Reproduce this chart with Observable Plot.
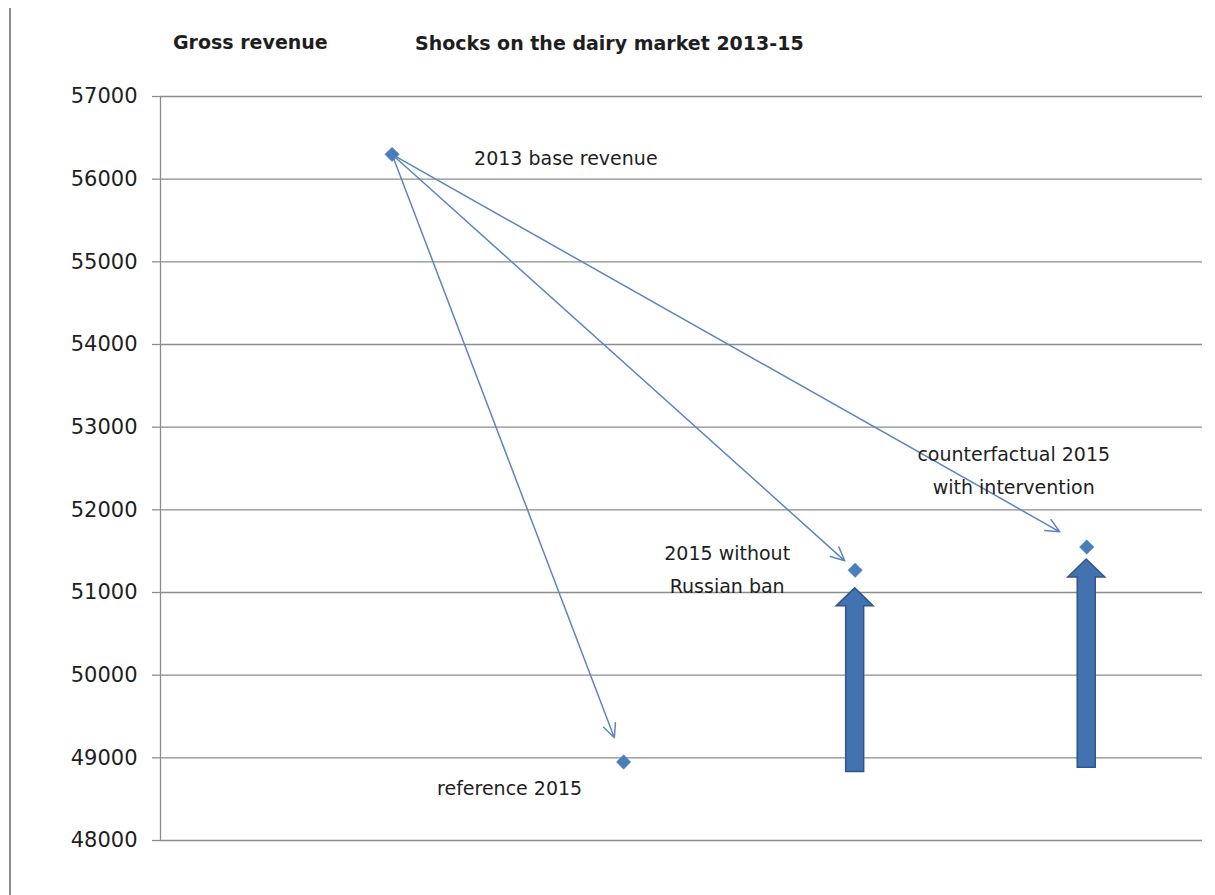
<!DOCTYPE html>
<html>
<head>
<meta charset="utf-8">
<script src="https://cdn.jsdelivr.net/npm/d3@7"></script>
<script src="https://cdn.jsdelivr.net/npm/@observablehq/plot@0.6"></script>
<style>
  html, body { margin: 0; padding: 0; background: #fff; }
  #wrap { position: relative; width: 1215px; height: 895px; overflow: hidden; }
  #border { position: absolute; left: 9px; top: 8px; bottom: 0; border-left: 2px solid #8a8a8a; }
  #header { position: relative; height: 70px; }
  .ttl { position: absolute; font-family: "DejaVu Sans", sans-serif; font-weight: bold; font-size: 19px; line-height: 19px; color: #1e1e1e; white-space: nowrap; }
  #chart svg { display: block; }
</style>
</head>
<body>
<div id="wrap">
  <div id="border"></div>
  <div id="header">
    <div class="ttl" style="left:173px; top:33px;">Gross revenue</div>
    <div class="ttl" style="left:415px; top:34px; font-size:19px;">Shocks on the dairy market 2013-15</div>
  </div>
  <div id="chart"></div>
</div>
<script>
// ---- data ----
const scenarios = ["2013 base revenue", "reference 2015", "2015 without\nRussian ban", "counterfactual 2015\nwith intervention"];
const xPos = [1, 2, 3, 4];
const revenue = [56300, 48950, 51270, 51550];
const yTicks = [48000, 49000, 50000, 51000, 52000, 53000, 54000, 55000, 56000, 57000];
// thick "gain" arrows
const gainX = [3, 4];
const gainFrom = [48830, 48880];
const gainTo = [51050, 51400];

const points = scenarios.map((s, i) => ({label: s, x: xPos[i], y: revenue[i]}));
const shock = (j) => [{x1: xPos[0], y1: revenue[0], x2: xPos[j], y2: revenue[j]}];
const gains = gainX.map((x, i) => ({x, from: gainFrom[i], to: gainTo[i]}));

const blue = "#4a7ebb";
const grid = "#8c8c8c";

function blockArrows(index, scales) {
  const g = d3.create("svg:g");
  const shaft = 9, head = 18.5, headLen = 18;
  for (const d of gains) {
    const cx = scales.x(d.x), yb = scales.y(d.from), yt = scales.y(d.to);
    const p = [
      [cx - shaft, yb], [cx - shaft, yt + headLen], [cx - head, yt + headLen], [cx, yt],
      [cx + head, yt + headLen], [cx + shaft, yt + headLen], [cx + shaft, yb]
    ];
    g.append("path")
      .attr("d", "M" + p.map(q => q.join(",")).join("L") + "Z")
      .attr("fill", "#4272b0")
      .attr("stroke", "#30568a")
      .attr("stroke-width", 1.5);
  }
  return g.node();
}

const label = (i, opts) => Plot.text([points[i]], {
  x: "x", y: "y", text: "label", fill: "#1e1e1e", fontSize: 19, lineHeight: 1.7, ...opts
});

const chart = Plot.plot({
  width: 1215,
  height: 825,
  marginLeft: 160,
  marginRight: 13,
  marginTop: 26,
  marginBottom: 55,
  style: {fontFamily: "DejaVu Sans, sans-serif", fontSize: "21px", color: "#1e1e1e", background: "transparent"},
  x: {domain: [0, 4.5], axis: null},
  y: {domain: [48000, 57000]},
  marks: [
    Plot.ruleY(yTicks, {stroke: grid, strokeWidth: 1.3}),
    Plot.ruleX([0], {stroke: grid, strokeWidth: 1.3}),
    Plot.axisY({ticks: yTicks, tickSize: 8, tickPadding: 15, tickFormat: d => String(d), stroke: grid, strokeWidth: 1.3, fill: "#1e1e1e", fontSize: 21}),
    Plot.arrow(shock(1), {x1: "x1", y1: "y1", x2: "x2", y2: "y2", stroke: "#5b86c2", strokeWidth: 1.5, headLength: 15, headAngle: 50, insetStart: 2, insetEnd: 26}),
    Plot.arrow(shock(2), {x1: "x1", y1: "y1", x2: "x2", y2: "y2", stroke: "#5b86c2", strokeWidth: 1.5, headLength: 15, headAngle: 50, insetStart: 2, insetEnd: 14}),
    Plot.arrow(shock(3), {x1: "x1", y1: "y1", x2: "x2", y2: "y2", stroke: "#5b86c2", strokeWidth: 1.5, headLength: 15, headAngle: 50, insetStart: 2, insetEnd: 31}),
    blockArrows,
    Plot.dot(points, {x: "x", y: "y", symbol: "diamond2", r: 6.5, fill: blue, stroke: blue, strokeWidth: 0.5}),
    label(0, {textAnchor: "start", dx: 82, dy: 0}),
    label(1, {textAnchor: "middle", dx: -114, dy: 23}),
    label(2, {textAnchor: "middle", dx: -128, dy: -4}),
    label(3, {textAnchor: "middle", dx: -73, dy: -80})
  ]
});
document.getElementById("chart").appendChild(chart);
</script>
</body>
</html>
